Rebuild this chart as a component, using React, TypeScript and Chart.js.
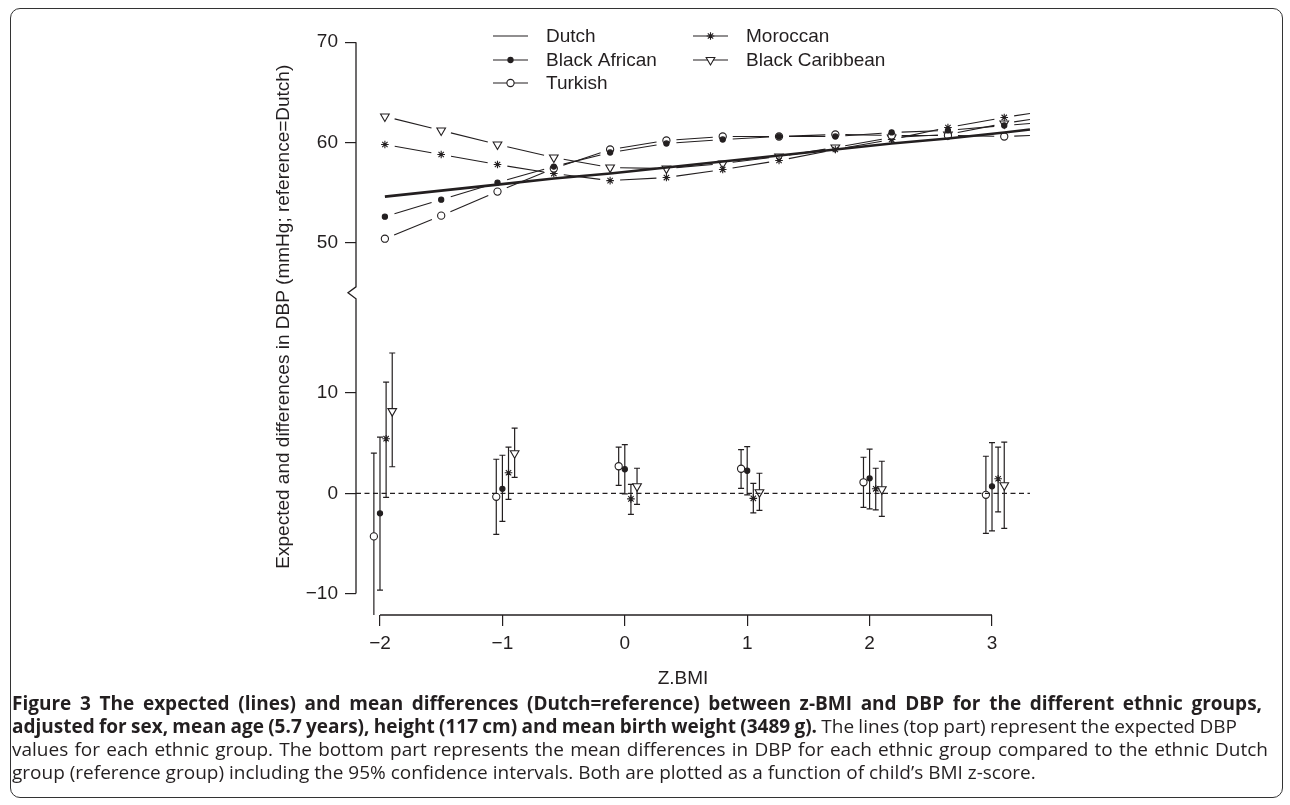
import React, { useEffect, useLayoutEffect, useRef } from 'react';
import { Chart, registerables, PointElement } from 'chart.js';

Chart.register(...registerables);

// ---------------- data ----------------
// Top panel values (expected DBP, mmHg) are drawn shifted down by BREAK_SHIFT
// so that they sit above the axis break.
const BREAK_SHIFT = 25;

const topX = [-1.96, -1.5, -1.04, -0.58, -0.12, 0.34, 0.8, 1.26, 1.72, 2.18, 2.64, 3.1, 3.31];
const dutchTop = [54.6, 55.2, 55.8, 56.4, 56.9, 57.5, 58.1, 58.7, 59.3, 59.9, 60.4, 61.0, 61.3];
const blackAfricanTop = [52.6, 54.3, 56.0, 57.6, 59.0, 59.9, 60.3, 60.6, 60.6, 61.0, 61.2, 61.7, 61.9];
const turkishTop = [50.4, 52.7, 55.1, 57.4, 59.3, 60.2, 60.6, 60.6, 60.8, 60.7, 60.7, 60.6, 60.7];
const moroccanTop = [59.8, 58.8, 57.8, 56.9, 56.2, 56.5, 57.3, 58.2, 59.3, 60.3, 61.5, 62.5, 62.9];
const blackCaribbeanTop = [62.6, 61.2, 59.8, 58.5, 57.5, 57.4, 57.9, 58.6, 59.5, 60.5, 60.8, 61.9, 62.3];

// Bottom panel: mean differences vs Dutch with 95% CI
const groupX = [-2, -1, 0, 1, 2, 3];
const turkishDiff = [-4.3, -0.35, 2.7, 2.45, 1.1, -0.15];
const turkishLow = [-12.8, -4.1, 0.8, 0.5, -1.4, -4.0];
const turkishHigh = [4.0, 3.4, 4.6, 4.35, 3.6, 3.7];
const blackAfricanDiff = [-2.0, 0.45, 2.4, 2.25, 1.5, 0.7];
const blackAfricanLow = [-9.65, -2.8, -0.05, -0.15, -1.55, -3.75];
const blackAfricanHigh = [5.6, 3.8, 4.85, 4.65, 4.4, 5.05];
const moroccanDiff = [5.45, 2.05, -0.55, -0.5, 0.45, 1.45];
const moroccanLow = [-0.4, -0.6, -2.1, -1.95, -1.65, -1.85];
const moroccanHigh = [11.1, 4.6, 0.9, 1.0, 2.5, 4.6];
const blackCaribbeanDiff = [8.2, 4.0, 0.7, 0.1, 0.4, 0.8];
const blackCaribbeanLow = [2.65, 1.6, -1.1, -1.7, -2.3, -3.5];
const blackCaribbeanHigh = [14.0, 6.5, 2.5, 2.0, 3.2, 5.1];

const xTickValues = [-2, -1, 0, 1, 2, 3];
const yTickValues = [-10, 0, 10, 50, 60, 70];
const seriesNames = ['Dutch', 'Black African', 'Turkish', 'Moroccan', 'Black Caribbean'];

const xAxisTitle = 'Z.BMI';
const yAxisTitle = 'Expected and differences in DBP (mmHg; reference=Dutch)';

const captionLines = [
  [{ b: true, t: 'Figure 3 The expected (lines) and mean differences (Dutch=reference) between z-BMI and DBP for the different ethnic groups,' }],
  [
    { b: true, t: 'adjusted for sex, mean age (5.7 years), height (117 cm) and mean birth weight (3489 g).' },
    { b: false, t: ' The lines (top part) represent the expected DBP' },
  ],
  [{ b: false, t: 'values for each ethnic group. The bottom part represents the mean differences in DBP for each ethnic group compared to the ethnic Dutch' }],
  [{ b: false, t: 'group (reference group) including the 95% confidence intervals. Both are plotted as a function of child\u2019s BMI z-score.' }],
];

// ---------------- styles / layout ----------------
const INK = '#231f20';
const FONT = "'Liberation Sans', Arial, Helvetica, sans-serif";
const X_MIN = -2.196;
const X_MAX = 3.147;
const Y_MIN = -12.14;
const Y_MAX = 47.38;
const GAP = 10;
const BREAK_AT = 20; // plotted value where the axis break is drawn

const markers: Record<string, any> = {
  'Black African': { pointStyle: 'circle', radius: 2.6, backgroundColor: INK, borderWidth: 1.1, rotation: 0 },
  Turkish: { pointStyle: 'circle', radius: 3.6, backgroundColor: '#ffffff', borderWidth: 1.1, rotation: 0 },
  Moroccan: { pointStyle: 'star', radius: 3.8, backgroundColor: INK, borderWidth: 1.1, rotation: 0 },
  'Black Caribbean': { pointStyle: 'triangle', radius: 5, backgroundColor: '#ffffff', borderWidth: 1.1, rotation: 180 },
};

const fmt = (v: number) => (v < 0 ? '\u2212' + Math.abs(v) : String(v));

function drawMarker(ctx: CanvasRenderingContext2D, name: string, x: number, y: number) {
  const m = markers[name];
  if (!m) return;
  const pe: any = new (PointElement as any)({
    x,
    y,
    options: { ...m, borderColor: INK, hitRadius: 0, hoverRadius: 0 },
  });
  pe.draw(ctx, { left: -1e4, top: -1e4, right: 1e4, bottom: 1e4 });
}

const customPlugin = {
  id: 'customDraw',
  beforeDatasetsDraw(chart: any) {
    const { ctx, scales, chartArea } = chart;
    const xs = scales.x;
    const ys = scales.y;
    ctx.save();
    ctx.strokeStyle = INK;
    ctx.lineCap = 'butt';
    // gapped lines (type "b") for top panel
    chart.data.datasets.forEach((ds: any) => {
      if (!ds.gapLine) return;
      ctx.lineWidth = 1.1;
      const radii: number[] = ds.pointRadius;
      const pts = ds.data.map((p: any) => ({ px: xs.getPixelForValue(p.x), py: ys.getPixelForValue(p.y) }));
      for (let i = 0; i < pts.length - 1; i++) {
        const a = pts[i];
        const b = pts[i + 1];
        const dx = b.px - a.px;
        const dy = b.py - a.py;
        const len = Math.hypot(dx, dy);
        const ga = radii[i] > 0 ? GAP : 0;
        const gb = radii[i + 1] > 0 ? GAP : 0;
        if (len <= ga + gb + 1) continue;
        const ux = dx / len;
        const uy = dy / len;
        ctx.beginPath();
        ctx.moveTo(a.px + ux * ga, a.py + uy * ga);
        ctx.lineTo(b.px - ux * gb, b.py - uy * gb);
        ctx.stroke();
      }
    });
    // error bars for bottom panel
    ctx.save();
    ctx.beginPath();
    ctx.rect(chartArea.left, chartArea.top, chartArea.right - chartArea.left + 60, chartArea.bottom - chartArea.top);
    ctx.clip();
    ctx.lineWidth = 1.2;
    chart.data.datasets.forEach((ds: any) => {
      if (!ds.errLow) return;
      ds.data.forEach((p: any, i: number) => {
        const px = xs.getPixelForValue(p.x);
        const yl = ys.getPixelForValue(ds.errLow[i]);
        const yh = ys.getPixelForValue(ds.errHigh[i]);
        ctx.beginPath();
        ctx.moveTo(px, yl);
        ctx.lineTo(px, yh);
        ctx.moveTo(px - 3, yl);
        ctx.lineTo(px + 3, yl);
        ctx.moveTo(px - 3, yh);
        ctx.lineTo(px + 3, yh);
        ctx.stroke();
      });
    });
    ctx.restore();
    ctx.restore();
  },
  afterDraw(chart: any) {
    const { ctx, scales, chartArea } = chart;
    const xs = scales.x;
    const ys = scales.y;
    ctx.save();
    ctx.strokeStyle = INK;
    ctx.lineWidth = 1.3;
    // x axis line (R style, from first to last tick)
    const xb = chartArea.bottom;
    ctx.beginPath();
    ctx.moveTo(xs.getPixelForValue(xTickValues[0]), xb);
    ctx.lineTo(xs.getPixelForValue(xTickValues[xTickValues.length - 1]), xb);
    ctx.stroke();
    // y axis with break
    const yl = chartArea.left;
    const yBreak = ys.getPixelForValue(BREAK_AT);
    ctx.beginPath();
    ctx.moveTo(yl, ys.getPixelForValue(yTickValues[0]));
    ctx.lineTo(yl, yBreak + 6);
    ctx.lineTo(yl - 8, yBreak);
    ctx.lineTo(yl, yBreak - 6);
    ctx.lineTo(yl, ys.getPixelForValue(yTickValues[yTickValues.length - 1] - BREAK_SHIFT));
    ctx.stroke();

    // legend
    const cols = [
      { lx0: 493, lx1: 528, tx: 546 },
      { lx0: 693, lx1: 728, tx: 746 },
    ];
    const rows = [36, 60, 83];
    const place: Record<string, [number, number]> = {
      Dutch: [0, 0],
      'Black African': [0, 1],
      Turkish: [0, 2],
      Moroccan: [1, 0],
      'Black Caribbean': [1, 1],
    };
    ctx.textBaseline = 'middle';
    ctx.textAlign = 'left';
    seriesNames.forEach((name) => {
      const [c, r] = place[name];
      const col = cols[c];
      const y = rows[r];
      ctx.lineWidth = 1.1;
      ctx.strokeStyle = INK;
      ctx.beginPath();
      ctx.moveTo(col.lx0, y);
      ctx.lineTo(col.lx1, y);
      ctx.stroke();
      drawMarker(ctx, name, (col.lx0 + col.lx1) / 2, y);
      ctx.fillStyle = INK;
      ctx.font = `19px ${FONT}`;
      ctx.fillText(name, col.tx, y + 1);
    });
    ctx.restore();
  },
};

function topDataset(name: string, values: number[]) {
  const m = markers[name];
  return {
    label: name,
    data: topX.map((x, i) => ({ x, y: values[i] - BREAK_SHIFT })),
    showLine: false,
    gapLine: true,
    pointStyle: m.pointStyle,
    pointRotation: m.rotation,
    pointRadius: topX.map((_, i) => (i === topX.length - 1 ? 0 : m.radius)),
    pointBackgroundColor: m.backgroundColor,
    pointBorderColor: INK,
    pointBorderWidth: m.borderWidth,
    clip: false,
  };
}

function bottomDataset(name: string, dodge: number, diff: number[], low: number[], high: number[]) {
  const m = markers[name];
  return {
    label: name + ' difference',
    data: groupX.map((x, i) => ({ x: x + dodge, y: diff[i] })),
    errLow: low,
    errHigh: high,
    showLine: false,
    pointStyle: m.pointStyle,
    pointRotation: m.rotation,
    pointRadius: m.radius,
    pointBackgroundColor: m.backgroundColor,
    pointBorderColor: INK,
    pointBorderWidth: m.borderWidth,
    clip: false,
  };
}

function ChartCanvas() {
  const ref = useRef<HTMLCanvasElement | null>(null);
  useEffect(() => {
    if (!ref.current) return;
    const tickFont = { family: FONT, size: 19 };
    const chart = new Chart(ref.current, {
      type: 'scatter',
      data: {
        datasets: [
          {
            label: 'reference',
            data: [
              { x: X_MIN, y: 0 },
              { x: topX[topX.length - 1], y: 0 },
            ],
            showLine: true,
            borderColor: INK,
            borderWidth: 1.2,
            borderDash: [5, 3.5],
            pointRadius: 0,
            clip: false,
          } as any,
          {
            label: 'Dutch',
            data: topX.map((x, i) => ({ x, y: dutchTop[i] - BREAK_SHIFT })),
            showLine: true,
            borderColor: INK,
            borderWidth: 2.6,
            pointRadius: 0,
            tension: 0,
            clip: false,
          } as any,
          topDataset('Black African', blackAfricanTop) as any,
          topDataset('Turkish', turkishTop) as any,
          topDataset('Moroccan', moroccanTop) as any,
          topDataset('Black Caribbean', blackCaribbeanTop) as any,
          bottomDataset('Turkish', -0.05, turkishDiff, turkishLow, turkishHigh) as any,
          bottomDataset('Black African', 0, blackAfricanDiff, blackAfricanLow, blackAfricanHigh) as any,
          bottomDataset('Moroccan', 0.05, moroccanDiff, moroccanLow, moroccanHigh) as any,
          bottomDataset('Black Caribbean', 0.1, blackCaribbeanDiff, blackCaribbeanLow, blackCaribbeanHigh) as any,
        ],
      },
      options: {
        responsive: false,
        maintainAspectRatio: false,
        devicePixelRatio: 1,
        animation: false,
        events: [],
        layout: { padding: { left: 0, top: 12, right: 280, bottom: 115 } },
        plugins: { legend: { display: false }, tooltip: { enabled: false }, title: { display: false } },
        scales: {
          x: {
            type: 'linear',
            min: X_MIN,
            max: X_MAX,
            afterBuildTicks: (s: any) => {
              s.ticks = xTickValues.map((v) => ({ value: v }));
            },
            afterFit: (s: any) => {
              s.height = 75;
            },
            ticks: {
              autoSkip: false,
              maxRotation: 0,
              padding: 6,
              color: INK,
              font: tickFont,
              callback: (v: any) => fmt(Number(v)),
            },
            grid: { drawOnChartArea: false, drawTicks: true, tickLength: 11, color: INK, lineWidth: 1.2 },
            border: { display: false },
            title: { display: true, text: xAxisTitle, color: INK, font: tickFont, padding: 0 },
          },
          y: {
            type: 'linear',
            min: Y_MIN,
            max: Y_MAX,
            afterBuildTicks: (s: any) => {
              s.ticks = yTickValues.map((v) => ({ value: v >= 50 ? v - BREAK_SHIFT : v }));
            },
            afterFit: (s: any) => {
              s.width = 356;
            },
            ticks: {
              autoSkip: false,
              padding: 7,
              color: INK,
              font: tickFont,
              callback: (v: any) => {
                const n = Number(v);
                return fmt(n > BREAK_AT ? n + BREAK_SHIFT : n);
              },
            },
            grid: { drawOnChartArea: false, drawTicks: true, tickLength: 11, color: INK, lineWidth: 1.2 },
            border: { display: false },
            title: { display: true, text: yAxisTitle, color: INK, font: tickFont, padding: { top: 272, bottom: 0 } },
          },
        },
      } as any,
      plugins: [customPlugin as any],
    });
    return () => chart.destroy();
  }, []);
  return <canvas ref={ref} width={1290} height={805} style={{ position: 'absolute', left: 0, top: 0, width: 1290, height: 805 }} />;
}

const captionTargets = [1262, 1237, 1268, 0];
const captionTops = [692, 715, 738, 761];

function Caption() {
  const refs = useRef<(HTMLDivElement | null)[]>([]);
  useLayoutEffect(() => {
    const fit = () => {
      refs.current.forEach((el, i) => {
        if (!el) return;
        const target = captionTargets[i];
        if (!target) return;
        el.style.wordSpacing = '0px';
        const natural = el.getBoundingClientRect().width;
        const spaces = (el.textContent || '').split(' ').length - 1;
        if (spaces > 0) el.style.wordSpacing = (target - 12 - natural) / spaces + 'px';
      });
    };
    fit();
    if ((document as any).fonts && (document as any).fonts.ready) (document as any).fonts.ready.then(fit);
  }, []);
  return (
    <>
      {captionLines.map((line, i) => (
        <div
          key={i}
          ref={(el) => {
            refs.current[i] = el;
          }}
          style={{
            position: 'absolute',
            left: 12,
            top: captionTops[i],
            whiteSpace: 'nowrap',
            fontFamily: "'Open Sans', 'Noto Sans', sans-serif",
            fontSize: 19,
            lineHeight: '23px',
            color: INK,
          }}
        >
          {line.map((seg, j) => (
            <span key={j} style={{ fontWeight: seg.b ? 700 : 400 }}>
              {seg.t}
            </span>
          ))}
        </div>
      ))}
    </>
  );
}

export default function App() {
  return (
    <div style={{ position: 'absolute', left: 0, top: 0, width: 1290, height: 805, background: '#ffffff', overflow: 'hidden' }}>
      <div
        style={{
          position: 'absolute',
          left: 10,
          top: 8,
          width: 1273,
          height: 790,
          border: '1.5px solid #333',
          borderRadius: 10,
          boxSizing: 'border-box',
        }}
      />
      <ChartCanvas />
      <Caption />
    </div>
  );
}
